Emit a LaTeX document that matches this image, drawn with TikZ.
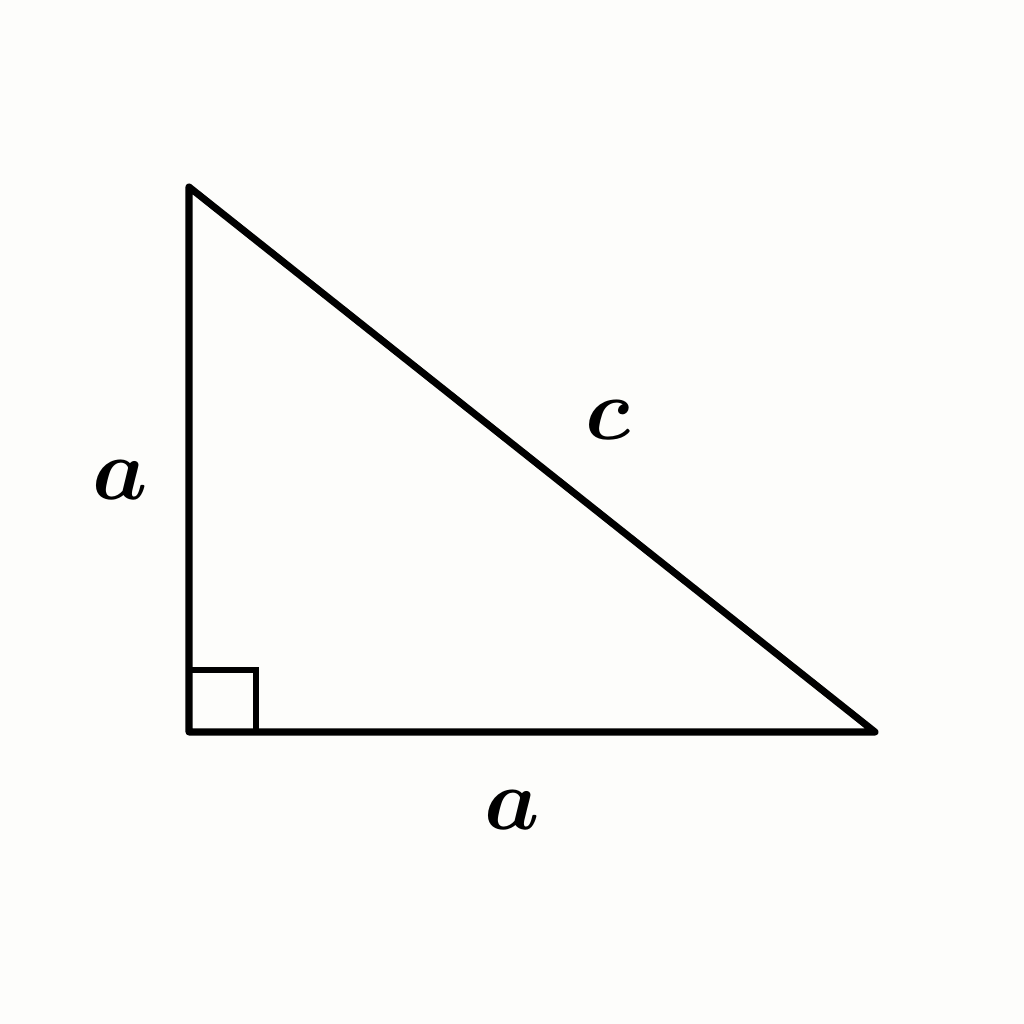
\documentclass[tikz,border=0pt]{standalone}
\definecolor{bg}{RGB}{253,253,251}
\begin{document}
\begin{tikzpicture}[x=0.01cm,y=-0.01cm,
  edge/.style={line width=2pt, line cap=round, line join=round},
  lbl/.style={font=\fontsize{46}{54}\selectfont\boldmath, inner sep=0pt}]
\fill[bg] (0,0) rectangle (1024,1024);
\useasboundingbox (0,0) rectangle (1024,1024);
\coordinate (A) at (189,187);
\coordinate (B) at (189,732);
\coordinate (C) at (875,732);
\draw[edge] (A) -- (B) -- (C) -- cycle;
\coordinate (S1) at (189,670);
\coordinate (S2) at (256,670);
\coordinate (S3) at (256,732);
\draw[line width=1.6pt] (S1) -- (S2) -- (S3);
\node[lbl] (la) at (120,480) {$a$};
\node[lbl] (lc) at (608,420) {$c$};
\node[lbl] (lb) at (512,810) {$a$};
\end{tikzpicture}
\end{document}
